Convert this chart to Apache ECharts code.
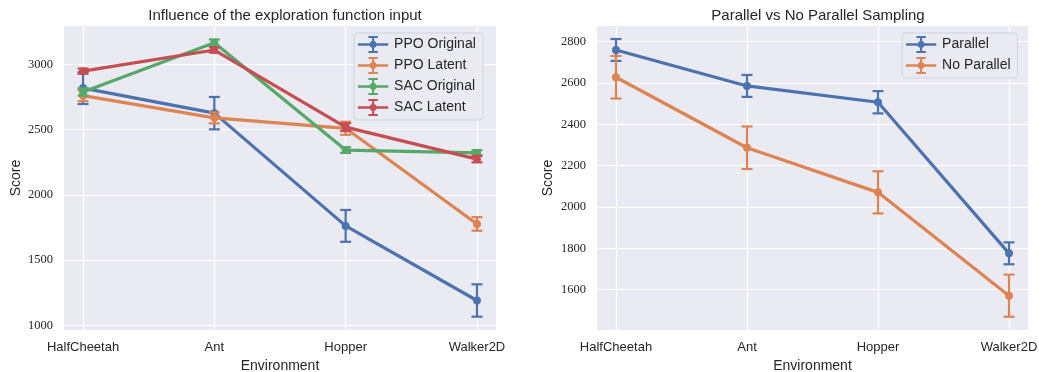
<!DOCTYPE html>
<html>
<head>
<meta charset="utf-8">
<script src="https://cdn.jsdelivr.net/npm/echarts@6/dist/echarts.min.js"></script>
<style>
  html, body { margin: 0; padding: 0; background: #ffffff; }
  #chart { width: 1039px; height: 372px; }
</style>
</head>
<body>
<div id="chart"></div>
<script>
// Environments on the x axis (positions 0..3)
const environments = ['HalfCheetah', 'Ant', 'Hopper', 'Walker2D'];

// Left panel: mean score and half-height of the error bar
const ppoOriginalMean = [2818, 2626, 1762, 1190];
const ppoOriginalErr  = [122, 124, 122, 124];
const ppoLatentMean   = [2760, 2590, 2510, 1777];
const ppoLatentErr    = [42, 42, 50, 52];
const sacOriginalMean = [2788, 3166, 2343, 2322];
const sacOriginalErr  = [28, 25, 22, 20];
const sacLatentMean   = [2948, 3110, 2519, 2274];
const sacLatentErr    = [20, 20, 30, 25];

// Right panel
const parallelMean   = [2760, 2586, 2507, 1776];
const parallelErr    = [53, 53, 54, 53];
const noParallelMean = [2628, 2287, 2071, 1571];
const noParallelErr  = [103, 103, 102, 102];

// Tick labels
const leftTicks  = [1000, 1500, 2000, 2500, 3000];
const rightTicks = [1600, 1800, 2000, 2200, 2400, 2600, 2800];

const COLORS = { blue: '#4C72B0', orange: '#DD8452', green: '#55A868', red: '#C44E52' };
const TEXT = '#262626';
const SANS = '"Liberation Sans", Arial, sans-serif';
const SERIF = '"Liberation Serif", "DejaVu Serif", serif';

// Legend glyph: line + error bar with caps + dot
const LEGEND_ICON = 'path://M0 8.6h32v2.8h-32Z M14.9 1h2.2v18h-2.2Z M11 1h10v2h-10Z M11 17h10v2h-10Z M12.4 10A3.6 3.6 0 0 1 19.6 10A3.6 3.6 0 0 1 12.4 10Z';

function errorBarItem(params, api) {
  const x = api.value(0);
  const lo = api.coord([x, api.value(1)]);
  const hi = api.coord([x, api.value(2)]);
  const half = 5.5;
  const style = { stroke: api.visual('color'), lineWidth: 2.2, lineCap: 'butt' };
  return {
    type: 'group',
    children: [
      { type: 'line', shape: { x1: lo[0], y1: lo[1], x2: hi[0], y2: hi[1] }, style },
      { type: 'line', shape: { x1: lo[0] - half, y1: lo[1], x2: lo[0] + half, y2: lo[1] }, style },
      { type: 'line', shape: { x1: hi[0] - half, y1: hi[1], x2: hi[0] + half, y2: hi[1] }, style }
    ]
  };
}

function buildSeries(name, color, means, errs, axisIndex, order) {
  const z = 10 + order * 2;
  return [
    {
      name, type: 'custom', xAxisIndex: axisIndex, yAxisIndex: axisIndex,
      renderItem: errorBarItem,
      encode: { x: 0, y: [1, 2] },
      itemStyle: { color },
      z,
      silent: true,
      data: means.map((m, i) => [i, m - errs[i], m + errs[i]])
    },
    {
      name, type: 'line', xAxisIndex: axisIndex, yAxisIndex: axisIndex,
      symbol: 'circle', symbolSize: 8,
      lineStyle: { color, width: 3.2 },
      itemStyle: { color },
      z: z + 1,
      data: means.map((m, i) => [i, m])
    }
  ];
}

function xAxisFor(gridIndex) {
  return {
    type: 'value', gridIndex,
    min: -0.145, max: 3.145,
    name: 'Environment', nameLocation: 'middle', nameGap: 28,
    nameTextStyle: { fontFamily: SANS, fontSize: 14, color: TEXT },
    axisLine: { show: false },
    axisTick: { show: false, customValues: [0, 1, 2, 3] },
    axisLabel: {
      customValues: [0, 1, 2, 3],
      formatter: v => environments[Math.round(v)],
      fontFamily: SANS, fontSize: 13, color: TEXT, margin: 11
    },
    splitLine: { show: true, lineStyle: { color: '#ffffff', width: 1.2 } }
  };
}

function yAxisFor(gridIndex, min, max, ticks, gap) {
  return {
    type: 'value', gridIndex, min, max,
    name: 'Score', nameLocation: 'middle', nameGap: gap, nameRotate: 90,
    nameTextStyle: { fontFamily: SANS, fontSize: 14, color: TEXT },
    axisLine: { show: false },
    axisTick: { show: false, customValues: ticks },
    axisLabel: {
      customValues: ticks,
      formatter: v => String(v),
      fontFamily: SERIF, fontSize: 12.5, color: TEXT, margin: 11
    },
    splitLine: { show: true, lineStyle: { color: '#ffffff', width: 1.2 } }
  };
}

function legendFor(names, left, top) {
  return {
    data: names.map(n => ({ name: n, icon: LEGEND_ICON })),
    orient: 'vertical',
    left, top,
    itemWidth: 32, itemHeight: 17,
    itemGap: 4,
    itemTextGap: 13,
    padding: [3, 7, 4, 4],
    backgroundColor: '#EAEAF2',
    borderColor: '#d3d3da',
    borderWidth: 1,
    borderRadius: 3,
    selectedMode: false,
    textStyle: { fontFamily: SANS, fontSize: 14, color: TEXT }
  };
}

const series = [].concat(
  buildSeries('PPO Original', COLORS.blue,   ppoOriginalMean, ppoOriginalErr, 0, 0),
  buildSeries('PPO Latent',   COLORS.orange, ppoLatentMean,   ppoLatentErr,   0, 1),
  buildSeries('SAC Original', COLORS.green,  sacOriginalMean, sacOriginalErr, 0, 2),
  buildSeries('SAC Latent',   COLORS.red,    sacLatentMean,   sacLatentErr,   0, 3),
  buildSeries('Parallel',     COLORS.blue,   parallelMean,    parallelErr,    1, 0),
  buildSeries('No Parallel',  COLORS.orange, noParallelMean,  noParallelErr,  1, 1)
);

const chart = echarts.init(document.getElementById('chart'), null, { renderer: 'canvas' });
chart.setOption({
  animation: false,
  backgroundColor: '#ffffff',
  title: [
    { text: 'Influence of the exploration function input', left: 280, top: 3, textAlign: 'center',
      textStyle: { fontFamily: SANS, fontSize: 15, fontWeight: 'normal', color: TEXT } },
    { text: 'Parallel vs No Parallel Sampling', left: 813, top: 3, textAlign: 'center',
      textStyle: { fontFamily: SANS, fontSize: 15, fontWeight: 'normal', color: TEXT } }
  ],
  grid: [
    { left: 64, top: 26, width: 432, height: 304, show: true, backgroundColor: '#EAEAF2', borderWidth: 0,
      outerBoundsMode: 'none', containLabel: false },
    { left: 597, top: 26, width: 431, height: 304, show: true, backgroundColor: '#EAEAF2', borderWidth: 0,
      outerBoundsMode: 'none', containLabel: false }
  ],
  xAxis: [xAxisFor(0), xAxisFor(1)],
  yAxis: [yAxisFor(0, 964, 3294, leftTicks, 41), yAxisFor(1, 1405, 2876, rightTicks, 42)],
  legend: [
    legendFor(['PPO Original', 'PPO Latent', 'SAC Original', 'SAC Latent'], 354, 33),
    legendFor(['Parallel', 'No Parallel'], 902, 33)
  ],
  series
});
</script>
</body>
</html>
